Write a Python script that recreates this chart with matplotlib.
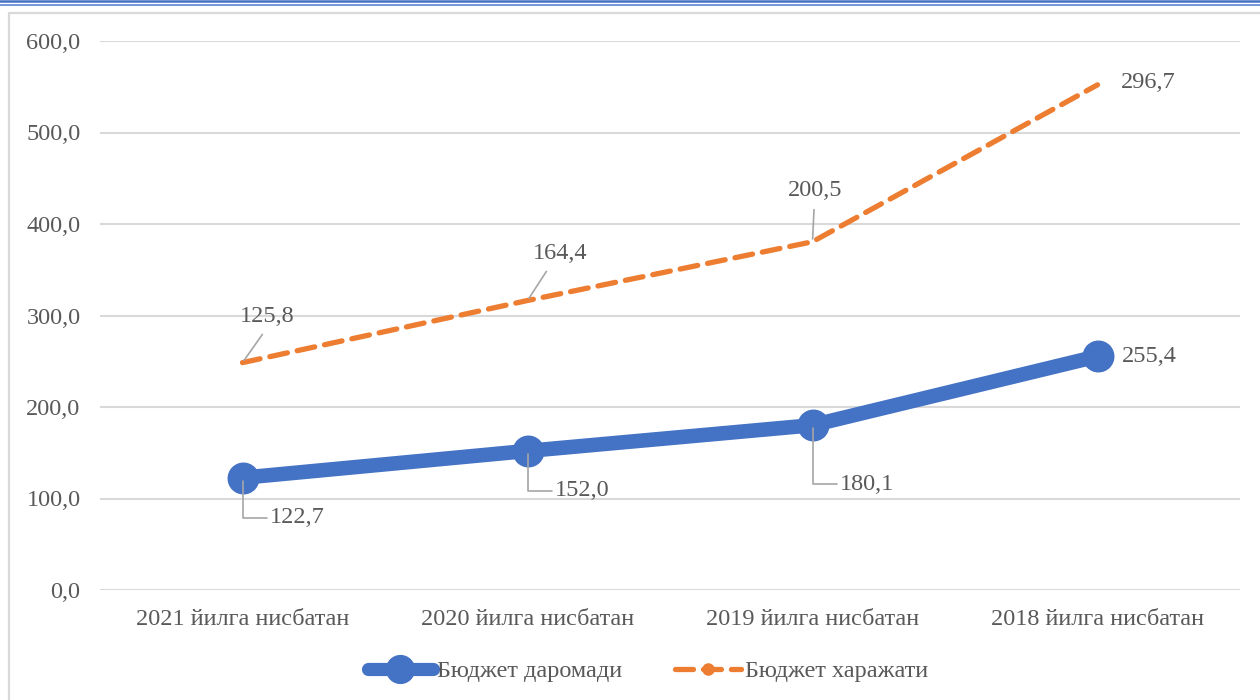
import matplotlib
matplotlib.use("Agg")
import matplotlib.pyplot as plt
from matplotlib.lines import Line2D
import numpy as np

categories = ["2021 йилга нисбатан", "2020 йилга нисбатан", "2019 йилга нисбатан", "2018 йилга нисбатан"]
revenue = [122.7, 152.0, 180.1, 255.4]
expenses = [125.8, 164.4, 200.5, 296.7]
series_names = ["Бюджет даромади", "Бюджет харажати"]
y_ticks = [0, 100, 200, 300, 400, 500, 600]

BLUE = "#4472C4"
ORANGE = "#ED7D31"
TXT = "#595959"
GRID = "#D9D9D9"
FS = 17.5

plt.rcParams["font.family"] = ["Liberation Serif", "DejaVu Serif"]

fig = plt.figure(figsize=(12.6, 7), dpi=100)
ax = fig.add_axes([100/1260, 1-590/700, 1140/1260, (590-41)/700])

x = np.arange(len(categories))
stacked = np.array(revenue) + np.array(expenses)

ax.plot(x, revenue, color=BLUE, lw=10.5, marker="o", ms=22, solid_capstyle="round", zorder=3)
ax.plot(x, stacked, color=ORANGE, lw=3.8, dashes=(3.4, 1.9), dash_capstyle="round", zorder=3)

ax.set_xlim(-0.5, 3.5)
ax.set_ylim(0, 600)
ax.set_yticks(y_ticks)
ax.set_yticklabels([f"{v:.1f}".replace(".", ",") for v in y_ticks])
ax.set_xticks(x)
ax.set_xticklabels(categories)
ax.tick_params(axis="both", length=0, labelsize=FS, colors=TXT)
ax.tick_params(axis="y", pad=14)
ax.tick_params(axis="x", pad=14)
ax.grid(axis="y", color=GRID, lw=1.5)
ax.set_axisbelow(True)
for s in ax.spines.values():
    s.set_visible(False)

def fmt(v):
    return f"{v:.1f}".replace(".", ",")

lead = dict(arrowstyle="-", color="#A6A6A6", lw=1.2, shrinkA=0, shrinkB=2)

# revenue labels
rev_off = [(27, -40), (27, -40), (27, -59), (24, 0)]
for i, (v, off) in enumerate(zip(revenue, rev_off)):
    if i < 3:
        ap = dict(lead, connectionstyle="angle,angleA=0,angleB=90,rad=0", relpos=(0, 0.5))
        ax.annotate(fmt(v), (x[i], v), xytext=(off[0], off[1]), textcoords="offset pixels",
                    ha="left", va="center", fontsize=FS, color=TXT, arrowprops=ap, zorder=4)
    else:
        ax.annotate(fmt(v), (x[i], v), xytext=off, textcoords="offset pixels",
                    ha="left", va="center", fontsize=FS, color=TXT, zorder=4)

# expense labels
exp_off = [(25, 46), (33, 47), (3, 51), (23, 2)]
exp_rel = [(0.5, 0), (0.33, 0), (0.48, 0), None]
for i, (v, off, rp) in enumerate(zip(expenses, exp_off, exp_rel)):
    if rp is not None:
        ap = dict(lead, relpos=rp, shrinkA=4)
        ax.annotate(fmt(v), (x[i], stacked[i]), xytext=off, textcoords="offset pixels",
                    ha="center", va="center", fontsize=FS, color=TXT, arrowprops=ap, zorder=4)
    else:
        ax.annotate(fmt(v), (x[i], stacked[i]), xytext=off, textcoords="offset pixels",
                    ha="left", va="center", fontsize=FS, color=TXT, zorder=4)

handles = [
    Line2D([], [], color=BLUE, lw=9.5, marker="o", ms=20, solid_capstyle="round"),
    Line2D([], [], color=ORANGE, lw=3.8, dashes=(3.4, 1.9), dash_capstyle="round", marker="o", ms=8),
]
leg = fig.legend(handles, series_names, loc="center", bbox_to_anchor=(0.514, 1-671/700), ncol=2,
                 frameon=False, fontsize=FS, handlelength=2.7, handletextpad=0.15, columnspacing=2.2)
for t in leg.get_texts():
    t.set_color(TXT)

# outer decorations
fig.add_artist(Line2D([0, 1], [1-1.2/700, 1-1.2/700], color=BLUE, lw=1.8, transform=fig.transFigure))
fig.add_artist(Line2D([0, 1], [1-4.7/700, 1-4.7/700], color="#5B87D6", lw=1.2, transform=fig.transFigure))
fig.add_artist(Line2D([8.5/1260, 8.5/1260, 1], [0, 1-12.5/700, 1-12.5/700], color=GRID, lw=1.6,
                      transform=fig.transFigure))

fig.savefig("out.png", dpi=100)
